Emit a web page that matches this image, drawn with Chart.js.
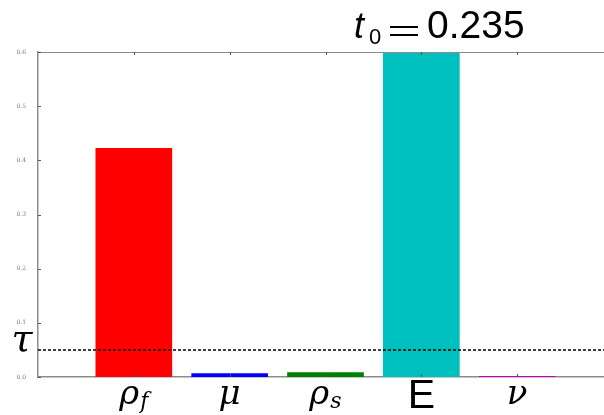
<!DOCTYPE html>
<html>
<head>
<meta charset="utf-8">
<script src="https://cdn.jsdelivr.net/npm/chart.js@4.4.1/dist/chart.umd.min.js"></script>
<style>
  html, body { margin: 0; padding: 0; background: #fff; overflow: hidden; }
  #wrap { width: 620px; height: 415px; }
</style>
</head>
<body>
<div id="wrap"><canvas id="chart" width="620" height="415"></canvas></div>
<script>
// parameter sensitivities, empty slots pad the axis on both sides
const categories = ['', 'rho_f', 'mu', 'rho_s', 'E', 'nu', ''];
const values = [null, 0.423, 0.007, 0.009, 0.62, 0.002, null];
const barColors = ['#ffffff', '#ff0000', '#0000ff', '#008000', '#00bfbf', '#bf00bf', '#ffffff'];
const yTicks = [0.0, 0.1, 0.2, 0.3, 0.4, 0.5, 0.6];
const tau = 0.05;
const t0 = 0.235;

const spineColor = '#8c8c8c';

// how each category label is typeset: main glyph + optional subscript
const labelGlyphs = {
  rho_f: { main: 'ρ', sub: 'f', serif: true },
  mu: { main: 'μ', sub: '', serif: true },
  rho_s: { main: 'ρ', sub: 's', serif: true },
  E: { main: 'E', sub: '', serif: false },
  nu: { main: 'ν', sub: '', serif: true }
};

const decorations = {
  id: 'decorations',
  afterDatasetsDraw(chart) {
    const { ctx, chartArea, scales } = chart;
    const x = scales.x, y = scales.y;
    ctx.save();

    // top spine
    ctx.strokeStyle = spineColor;
    ctx.lineWidth = 1;
    ctx.beginPath();
    ctx.moveTo(chartArea.left, chartArea.top + 0.5);
    ctx.lineTo(chartArea.right, chartArea.top + 0.5);
    ctx.stroke();

    // inward tick marks
    ctx.strokeStyle = '#555';
    categories.forEach((c, i) => {
      if (!c) return;
      const px = Math.round(x.getPixelForValue(i)) + 0.5;
      ctx.beginPath();
      ctx.moveTo(px, chartArea.bottom);
      ctx.lineTo(px, chartArea.bottom - 3);
      ctx.moveTo(px, chartArea.top);
      ctx.lineTo(px, chartArea.top + 3);
      ctx.stroke();
    });
    yTicks.forEach(v => {
      const py = Math.round(y.getPixelForValue(v)) + 0.5;
      ctx.beginPath();
      ctx.moveTo(chartArea.left, py);
      ctx.lineTo(chartArea.left + 3, py);
      ctx.stroke();
    });

    // threshold line
    const ty = y.getPixelForValue(tau);
    ctx.strokeStyle = '#000';
    ctx.lineWidth = 1.5;
    ctx.setLineDash([3, 2]);
    ctx.beginPath();
    ctx.moveTo(chartArea.left, ty);
    ctx.lineTo(chartArea.right, ty);
    ctx.stroke();
    ctx.setLineDash([]);

    // tau label
    ctx.fillStyle = '#000';
    ctx.font = 'italic 38px "DejaVu Serif"';
    ctx.textAlign = 'center';
    ctx.textBaseline = 'alphabetic';
    ctx.fillText('τ', 22, ty + 1);

    // category labels
    categories.forEach((c, i) => {
      const g = labelGlyphs[c];
      if (!g) return;
      const px = x.getPixelForValue(i);
      const base = 404;
      if (g.serif) {
        ctx.font = 'italic 34px "DejaVu Serif"';
        const mw = ctx.measureText(g.main).width;
        ctx.font = 'italic 22px "DejaVu Serif"';
        const sw = g.sub ? ctx.measureText(g.sub).width + 1 : 0;
        const sx = px - (mw + sw) / 2;
        ctx.textAlign = 'left';
        ctx.font = 'italic 34px "DejaVu Serif"';
        ctx.fillText(g.main, sx, base);
        if (g.sub) {
          ctx.font = 'italic 22px "DejaVu Serif"';
          ctx.fillText(g.sub, sx + mw + 1, base + 4);
        }
      } else {
        ctx.textAlign = 'center';
        ctx.font = '41px "Liberation Sans"';
        ctx.fillText(g.main, px, 408);
      }
    });

    // title: t_0 = 0.235
    ctx.textAlign = 'left';
    ctx.font = 'italic 36px "Liberation Sans"';
    ctx.fillText('t', 354, 38);
    ctx.font = '22px "Liberation Sans"';
    ctx.fillText('0', 369, 44);
    ctx.fillRect(390, 26, 28, 2);
    ctx.fillRect(390, 34, 28, 2);
    ctx.font = '39px "Liberation Sans"';
    ctx.fillText(t0.toFixed(3), 427, 38);

    ctx.restore();
  }
};

new Chart(document.getElementById('chart'), {
  type: 'bar',
  data: {
    labels: categories,
    datasets: [{
      data: values,
      backgroundColor: barColors,
      borderWidth: 0,
      barPercentage: 0.8,
      categoryPercentage: 1.0
    }]
  },
  options: {
    responsive: false,
    animation: false,
    layout: { padding: { top: 52, left: 0, right: 7, bottom: 0 } },
    plugins: {
      legend: { display: false },
      tooltip: { enabled: false }
    },
    scales: {
      x: {
        offset: false,
        grid: { display: false },
        border: { color: spineColor, width: 1.5 },
        ticks: { display: false },
        afterFit: s => { s.height = 38; }
      },
      y: {
        min: 0,
        max: 0.6,
        grid: { display: false },
        border: { color: spineColor, width: 1.5 },
        ticks: {
          stepSize: 0.1,
          color: '#777',
          padding: 4,
          font: { family: 'DejaVu Serif', size: 6 },
          callback: v => v.toFixed(1)
        },
        afterFit: s => { s.width = 38; }
      }
    }
  },
  plugins: [decorations]
});
</script>
</body>
</html>
